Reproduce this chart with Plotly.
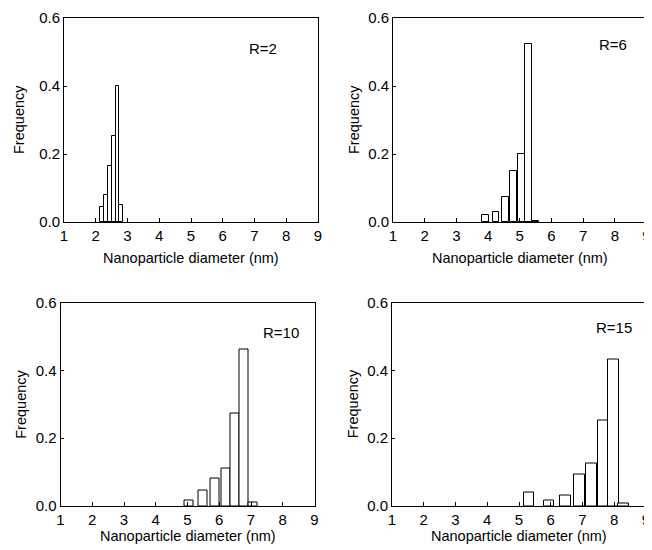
import plotly.graph_objects as go

# ---- data ----
panel_labels = ["R=2", "R=6", "R=10", "R=15"]

r2_diam = [2.19, 2.32, 2.45, 2.57, 2.69, 2.80]
r2_freq = [0.045, 0.080, 0.165, 0.252, 0.400, 0.051]

r6_diam = [3.91, 4.25, 4.55, 4.80, 5.04, 5.27, 5.49]
r6_freq = [0.020, 0.030, 0.075, 0.151, 0.200, 0.523, 0.003]

r10_diam = [5.04, 5.49, 5.86, 6.21, 6.50, 6.78, 7.05]
r10_freq = [0.016, 0.047, 0.080, 0.112, 0.272, 0.460, 0.011]

r15_diam = [5.31, 5.94, 6.46, 6.91, 7.29, 7.64, 7.98, 8.29]
r15_freq = [0.039, 0.015, 0.030, 0.094, 0.126, 0.252, 0.433, 0.008]

x_ticks = [1, 2, 3, 4, 5, 6, 7, 8, 9]
y_ticks = [0.0, 0.2, 0.4, 0.6]
y_ticktext = ["0.0", "0.2", "0.4", "0.6"]

x_title = "Nanoparticle diameter (nm)"
y_title = "Frequency"

# ---- layout geometry (page pixels; the page body adds an 8px margin) ----
OFF = 8
W, H = 652 - OFF, 550 - OFF
ML, MR, MT, MB = 45, 2, 5, 30
PW, PH = W - ML - MR, H - MT - MB
FONT = "Arial, Liberation Sans, sans-serif"


def px(x):
    return (x - OFF - ML) / PW


def py(y):
    return 1 - (y - OFF - MT) / PH


panels = [
    # (diam, freq, bar width, x0, x1, ytop, ybot, label x, label y)
    (r2_diam, r2_freq, 0.115, 64, 318, 18, 222, 263, 48),
    (r6_diam, r6_freq, 0.22, 393, 646.5, 18, 222, 613, 45),
    (r10_diam, r10_freq, 0.28, 60.5, 314.5, 302.5, 506, 281, 332),
    (r15_diam, r15_freq, 0.33, 392, 646, 302.5, 506, 614, 327),
]

fig = go.Figure()
annotations = []
for i, (dx, fy, bw, x0, x1, yt, yb, lx, ly) in enumerate(panels):
    n = "" if i == 0 else str(i + 1)
    fig.add_trace(go.Bar(
        x=dx, y=fy, width=bw,
        marker=dict(color="white", line=dict(color="black", width=1)),
        xaxis="x" + n, yaxis="y" + n, showlegend=False, hoverinfo="x+y",
    ))
    common = dict(
        showline=True, linecolor="black", linewidth=1, mirror=True,
        ticks="inside", tickcolor="black", tickwidth=1,
        showgrid=False, zeroline=False, automargin=False,
        ticklabeloverflow="allow",
        tickfont=dict(family=FONT, size=15, color="black"),
    )
    fig.layout["xaxis" + n] = dict(
        domain=[px(x0), px(x1)], range=[1, 9], tickvals=x_ticks, ticklen=4,
        anchor="y" + n, **common)
    fig.layout["yaxis" + n] = dict(
        domain=[py(yb), py(yt)], range=[0, 0.6], tickvals=y_ticks,
        ticktext=y_ticktext, ticklen=3, anchor="x" + n, **common)
    # panel label
    annotations.append(dict(
        text=panel_labels[i], x=px(lx), y=py(ly), xref="paper", yref="paper",
        showarrow=False, xanchor="center", yanchor="middle",
        font=dict(family=FONT, size=15, color="black")))
    # x title
    xt_y = yb + (36 if i < 2 else 30)
    annotations.append(dict(
        text=x_title, x=px((x0 + x1) / 2), y=py(xt_y), xref="paper", yref="paper",
        showarrow=False, xanchor="center", yanchor="middle",
        font=dict(family=FONT, size=14.5, color="black")))
    # y title
    annotations.append(dict(
        text=y_title, x=px(x0 - (45 if i == 0 else 39)), y=py((yt + yb) / 2),
        xref="paper", yref="paper", textangle=-90,
        showarrow=False, xanchor="center", yanchor="middle",
        font=dict(family=FONT, size=14.5, color="black")))

fig.update_layout(
    width=W, height=H, margin=dict(l=ML, r=MR, t=MT, b=MB, autoexpand=False),
    paper_bgcolor="white", plot_bgcolor="white",
    annotations=annotations, bargap=0,
)
fig.write_html("out.html")
